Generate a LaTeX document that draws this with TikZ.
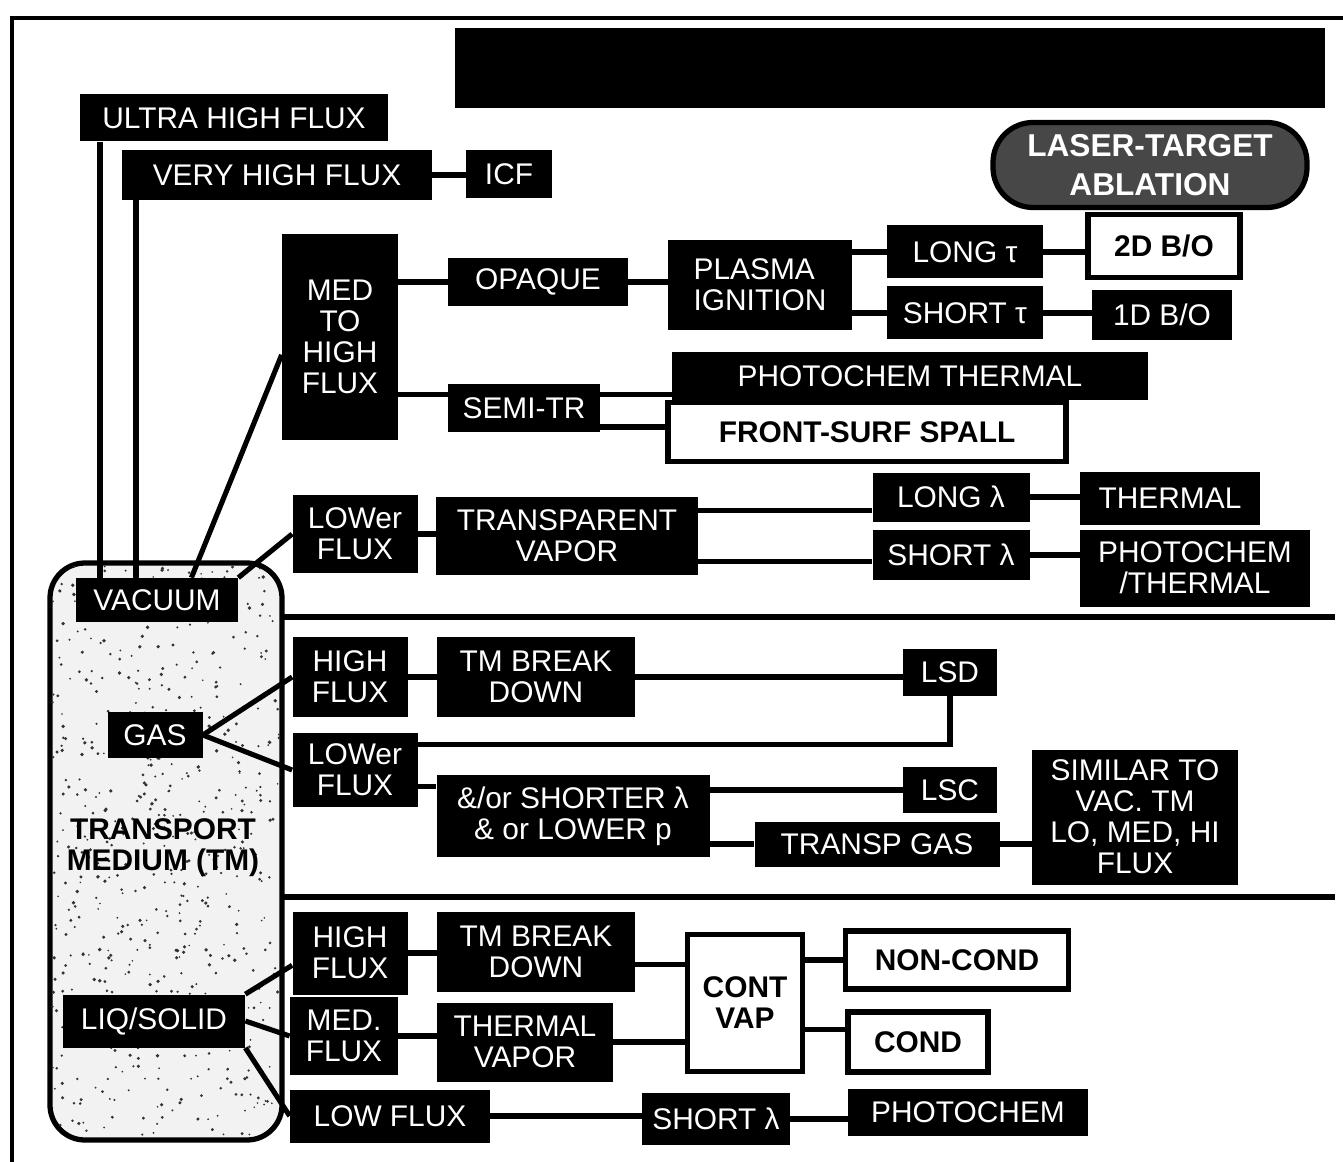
\documentclass[tikz,border=0pt]{standalone}
\usepackage{fontspec}
\setmainfont{Liberation Sans}
\usetikzlibrary{positioning}

\tikzset{
    sz/.style 2 args={minimum width=#1*0.02cm, minimum height=#2*0.02cm},
    blk/.style={fill=black, text=white, inner sep=0pt, align=center,
        font=\fontsize{17}{17.6}\selectfont},
    wht/.style={draw=black, line width=2.9pt, fill=white, text=black, inner sep=0pt,
        align=center, font=\fontsize{17}{17.6}\selectfont\bfseries},
    ln/.style={line width=2.9pt}
}

\begin{document}
\begin{tikzpicture}[x=0.02cm, y=-0.02cm]
    \useasboundingbox (0,0) rectangle (1343,1162);
    % Frame and separators
    \draw[line width=2.2pt] (12,1162) -- (12,18) -- (1343,18);
    \draw[ln] (282,617) -- (1335,617);
    \draw[ln] (282,897) -- (1335,897);
    % Title banner
    \fill (455,28) rectangle (1325,108);
    \node[fill=black!72, draw=black, line width=3pt, rounded corners=0.8cm, sz={314}{85},
        text=white, align=center, inner sep=0pt,
        font=\fontsize{18}{22}\selectfont\bfseries] (lta) at (1150,165) {LASER-TARGET\\ABLATION};

    % Transport medium box
    \draw[line width=3pt, fill=gray!10, rounded corners=0.7cm] (50,563) rectangle (282,1140);
    \begin{scope}
        \clip[rounded corners=0.7cm] (50,563) rectangle (282,1140);
        \pgfmathsetseed{11}
        \foreach \i in {1,...,600}
            \fill[black!80] (52+228*rnd, 565+573*rnd) circle (0.5pt+0.6pt*rnd);
    \end{scope}
    \node[blk, sz={162}{44}] (vac) at (157,600) {VACUUM};
    \node[blk, sz={95}{46}] (gas) at (155,735) {GAS};
    \node[align=center, inner sep=0pt, font=\fontsize{17}{17.6}\selectfont\bfseries] (tm) at (163,848) {TRANSPORT\\MEDIUM (TM)};
    \node[blk, sz={182}{53}] (liq) at (154,1021) {LIQ/SOLID};

    % Vacuum branch
    \node[blk, sz={308}{47}] (ultra) at (234,118) {ULTRA HIGH FLUX};
    \node[blk, sz={310}{50}] (vhf) at (277,175) {VERY HIGH FLUX};
    \node[blk, sz={86}{48}] (icf) at (509,174) {ICF};
    \node[blk, sz={116}{205}] (mth) at (340,337) {MED\\TO\\HIGH\\FLUX};
    \node[blk, sz={180}{48}] (opaque) at (538,282) {OPAQUE};
    \node[blk, sz={184}{90}, align=left] (plasma) at (760,285) {PLASMA\\IGNITION};
    \node[blk, sz={156}{53}] (longt) at (965,252) {LONG τ};
    \node[blk, sz={156}{53}] (shortt) at (965,313) {SHORT τ};
    \node[wht, sz={152}{63}] (bo2d) at (1164,246) {2D B/O};
    \node[blk, sz={140}{50}] (bo1d) at (1162,315) {1D B/O};
    \node[blk, sz={152}{47}] (semitr) at (524,408) {SEMI-TR};
    \node[blk, sz={476}{48}] (phth) at (910,376) {PHOTOCHEM THERMAL};
    \node[wht, sz={398}{59}] (spall) at (867,432) {FRONT-SURF SPALL};
    \node[blk, sz={125}{78}] (lowf1) at (355,534) {LOWer\\FLUX};
    \node[blk, sz={262}{78}] (transp) at (567,536) {TRANSPARENT\\VAPOR};
    \node[blk, sz={157}{49}] (longl) at (951,497) {LONG λ};
    \node[blk, sz={157}{50}] (shortl) at (951,555) {SHORT λ};
    \node[blk, sz={180}{53}] (thermal) at (1170,498) {THERMAL};
    \node[blk, sz={230}{77}] (phth2) at (1195,568) {PHOTOCHEM\\/THERMAL};

    \coordinate (ux) at (100,0);
    \coordinate (vx) at (136,0);
    \draw[ln] (vac.north -| ux) -- (ultra.south -| ux);
    \draw[ln] (vac.north -| vx) -- (vhf.south -| vx);
    \draw[ln] (vhf.east) -- (vhf.east -| icf.west);
    \draw[ln] (vac.33) -- (mth.197);
    \draw[ln] (vac.north east) -- (lowf1.west);
    \draw[ln] (opaque.west -| mth.east) -- (opaque.west);
    \draw[ln] (mth.east |- semitr.170) -- (semitr.170);
    \draw[ln] (opaque.east) -- (opaque.east -| plasma.west);
    \draw[ln] (longt.west -| plasma.east) -- (longt.west);
    \draw[ln] (shortt.west -| plasma.east) -- (shortt.west);
    \draw[ln] (longt.east) -- (longt.east -| bo2d.west);
    \draw[ln] (shortt.east) -- (shortt.east -| bo1d.west);
    \draw[ln] (semitr.10) -- (semitr.10 -| phth.west);
    \draw[ln] (semitr.-14) -- (semitr.-14 -| spall.west);
    \draw[ln] (lowf1.east) -- (lowf1.east -| transp.west);
    \draw[ln] (transp.11) -- (transp.11 -| longl.west);
    \draw[ln] (transp.-11) -- (transp.-11 -| shortl.west);
    \draw[ln] (longl.east) -- (longl.east -| thermal.west);
    \draw[ln] (shortl.east) -- (shortl.east -| phth2.west);

    % Gas branch
    \node[blk, sz={115}{80}] (highg) at (350,677) {HIGH\\FLUX};
    \node[blk, sz={198}{80}] (tmbd1) at (536,677) {TM BREAK\\DOWN};
    \node[blk, sz={94}{47}] (lsd) at (950,672) {LSD};
    \node[blk, sz={125}{74}] (lowf2) at (355,770) {LOWer\\FLUX};
    \node[blk, sz={273}{82}] (andor) at (573,816) {\&/or SHORTER λ\\\& or LOWER p};
    \node[blk, sz={94}{46}] (lsc) at (950,790) {LSC};
    \node[blk, sz={245}{45}] (tgas) at (877,844) {TRANSP GAS};
    \node[blk, sz={206}{135}] (similar) at (1135,817) {SIMILAR TO\\VAC. TM\\LO, MED, HI\\FLUX};

    \draw[ln] (gas.east) -- (highg.west);
    \draw[ln] (gas.east) -- (lowf2.west);
    \draw[ln] (highg.east) -- (highg.east -| tmbd1.west);
    \draw[ln] (tmbd1.east) -- (tmbd1.east -| lsd.west);
    \draw[ln] (lsd.south) |- (lowf2.22);
    \draw[ln] (lowf2.-15) -- (lowf2.-15 -| andor.west);
    \draw[ln] (lsc.west -| andor.east) -- (lsc.west);
    \draw[ln] (tgas.west -| andor.east) -- (tgas.west);
    \draw[ln] (tgas.east) -- (tgas.east -| similar.west);

    % Liquid / solid branch
    \node[blk, sz={115}{83}] (highl) at (350,953) {HIGH\\FLUX};
    \node[blk, sz={198}{80}] (tmbd2) at (536,952) {TM BREAK\\DOWN};
    \node[blk, sz={108}{78}] (medf) at (344,1036) {MED.\\FLUX};
    \node[blk, sz={176}{79}] (thvap) at (525,1042) {THERMAL\\VAPOR};
    \node[wht, sz={115}{137}] (contvap) at (745,1003) {CONT\\VAP};
    \node[wht, sz={223}{58}] (noncond) at (957,960) {NON-COND};
    \node[wht, sz={140}{60}] (cond) at (918,1042) {COND};
    \node[blk, sz={200}{53}] (lowf3) at (390,1116) {LOW FLUX};
    \node[blk, sz={148}{52}] (shortl2) at (716,1119) {SHORT λ};
    \node[blk, sz={240}{47}] (photochem) at (968,1112) {PHOTOCHEM};

    \draw[ln] (liq.north east) -- (highl.192);
    \draw[ln] (liq.east) -- (medf.west);
    \draw[ln] (liq.south east) -- (lowf3.west);
    \draw[ln] (highl.east) -- (highl.east -| tmbd2.west);
    \draw[ln] (tmbd2.-7.5) -- (tmbd2.-7.5 -| contvap.west);
    \draw[ln] (medf.east) -- (medf.east -| thvap.west);
    \draw[ln] (thvap.east) -- (thvap.east -| contvap.west);
    \draw[ln] (noncond.west -| contvap.east) -- (noncond.west);
    \draw[ln] (cond.170 -| contvap.east) -- (cond.170);
    \draw[ln] (lowf3.east) -- (lowf3.east -| shortl2.west);
    \draw[ln] (shortl2.east) -- (shortl2.east -| photochem.west);
\end{tikzpicture}
\end{document}
